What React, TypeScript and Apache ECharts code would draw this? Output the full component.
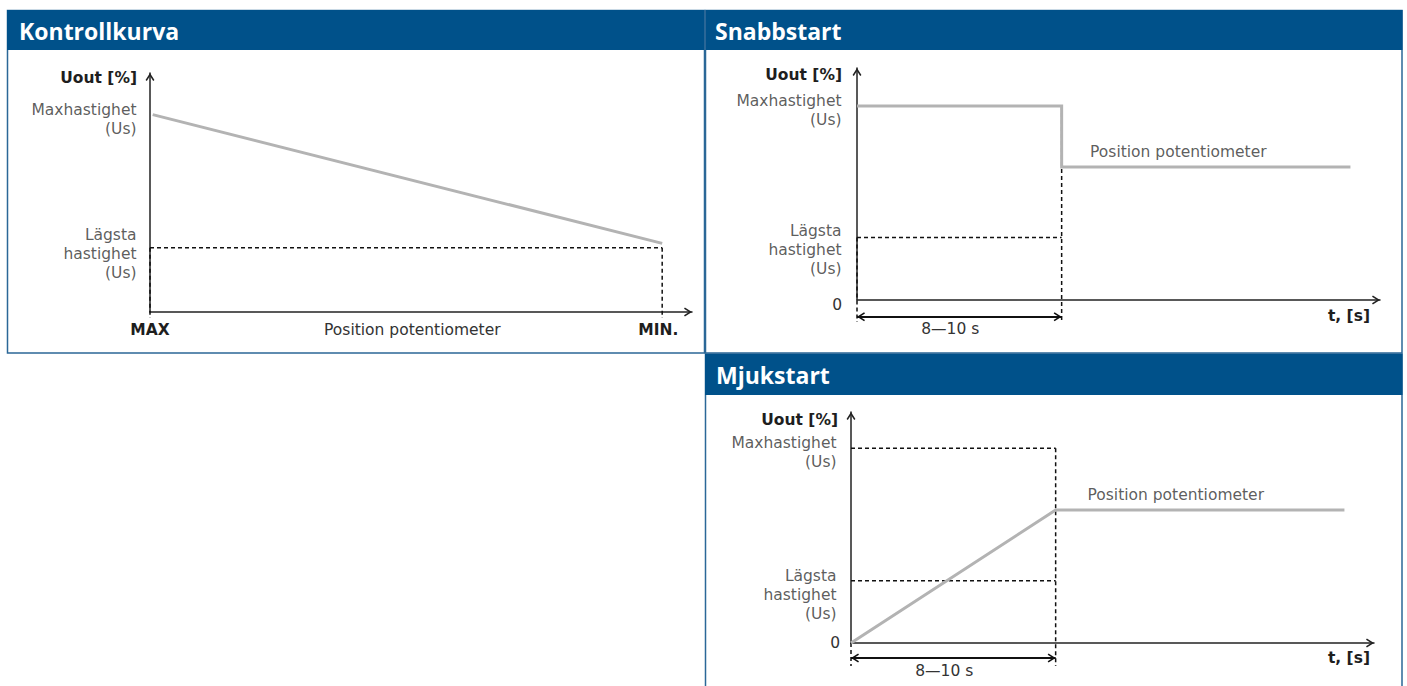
import React, { useEffect, useRef } from 'react';
import * as echarts from 'echarts';

// ---------- Kontrollkurva (Uout [%] vs. potentiometer position) ----------
const ctrlPosition = [0.5, 94.5];
const ctrlUout = [82.6, 28.7];
const ctrlMinSpeed = 26.9;
const ctrlDrop = -2.5;
const ctrlTickValues = [0, 48.4, 93.8];
const ctrlTickLabels = ['MAX', 'Position potentiometer', 'MIN.'];

// ---------- Snabbstart (Uout [%] vs. t [s]) ----------
const fastTime = [0, 9, 9, 21.7];
const fastUout = [83.6, 83.6, 57.3, 57.3];
const fastMinSpeed = 26.9;
const fastSpanY = -7.2;
const fastDrop = -9.5;
const fastNote = [10.25, 57.3];

// ---------- Mjukstart (Uout [%] vs. t [s]) ----------
const softTime = [0, 9, 21.7];
const softUout = [0, 57.6, 57.6];
const softMaxSpeed = 84.3;
const softMinSpeed = 27.0;
const softSpanY = -6.5;
const softDrop = -10;
const softNote = [10.4, 57.6];

const rampTime = 9;
const timeMax = 23;
const spanLabel = '8—10 s';
const spanLabelAt = [4.1];
const maxLabel = 'Maxhastighet\n(Us)';
const lowLabel = 'Lägsta\nhastighet\n(Us)';
const noteLabel = 'Position potentiometer';
const yName = 'Uout [%]';
const tName = 't, [s]';

const FONT = '"DejaVu Sans", Verdana, sans-serif';
const FS = 15.5;
const TEXT = '#333333';
const BOLD = '#1e1e1e';
const AXIS = '#222222';
const GREY = '#b3b3b3';
const BLUE = '#00518a';
const ARROW = 'path://M-4,-9M14,9M5,0L10,8L8.6,9L5,3.3L1.4,9L0,8Z';

const zip = (xs: number[], ys: number[]) => xs.map((x, i) => [x, ys[i]]);

function axisLine() {
  return {
    show: true,
    onZero: false,
    symbol: ['none', ARROW],
    symbolSize: [16, 16],
    lineStyle: { color: AXIS, width: 1.5 },
  };
}

function dashed(gi: number, pts: number[][]) {
  return {
    type: 'line',
    xAxisIndex: gi,
    yAxisIndex: gi,
    data: pts,
    symbol: 'none',
    lineStyle: { color: '#111', width: 1.5, type: [4, 3] },
    clip: false,
    silent: true,
    z: 3,
  };
}

function solid(gi: number, pts: number[][]) {
  return {
    type: 'line',
    xAxisIndex: gi,
    yAxisIndex: gi,
    data: pts,
    symbol: 'none',
    lineStyle: { color: GREY, width: 3, cap: 'butt', join: 'miter' },
    clip: false,
    silent: true,
    z: 4,
  };
}

function labels(gi: number, items: any[]) {
  return {
    type: 'scatter',
    xAxisIndex: gi,
    yAxisIndex: gi,
    symbolSize: 1,
    itemStyle: { color: 'rgba(0,0,0,0)' },
    silent: true,
    clip: false,
    z: 5,
    label: { show: true, fontFamily: FONT, fontSize: FS, color: TEXT, lineHeight: 19 },
    data: items.map((it) => ({
      value: it.value,
      label: {
        formatter: it.text,
        position: it.position,
        align: it.align,
        distance: it.distance,
        offset: [0, it.dy],
      },
    })),
  };
}

function span(gi: number, y: number) {
  return {
    type: 'lines',
    coordinateSystem: 'cartesian2d',
    xAxisIndex: gi,
    yAxisIndex: gi,
    clip: false,
    silent: true,
    symbol: [ARROW, ARROW],
    symbolSize: 16,
    lineStyle: { color: '#111', width: 1.8, opacity: 1, curveness: 0 },
    data: [{ coords: [[0, y], [rampTime, y]] }],
    z: 5,
  };
}

function yAxisFor(gi: number, nameGap: number, namePad: number, zero: null | { margin: number; lh: number }) {
  return {
    gridIndex: gi,
    type: 'value',
    min: 0,
    max: 100,
    axisLine: axisLine(),
    axisTick: { show: false },
    splitLine: { show: false },
    axisLabel: zero
      ? {
          show: true,
          customValues: [0],
          formatter: () => '0',
          margin: zero.margin,
          verticalAlign: 'top',
          lineHeight: zero.lh,
          fontFamily: FONT,
          fontSize: FS,
          color: TEXT,
        }
      : { show: false },
    name: yName,
    nameLocation: 'end',
    nameGap,
    nameMoveOverlap: false,
    nameTextStyle: {
      align: 'right',
      verticalAlign: 'middle',
      padding: [0, namePad, 0, 0],
      fontFamily: FONT,
      fontWeight: 'bold',
      fontSize: FS,
      color: BOLD,
    },
  };
}

function timeAxis(gi: number, nameGap: number, namePad: number, labelMargin: number) {
  return {
    gridIndex: gi,
    type: 'value',
    min: 0,
    max: timeMax,
    axisLine: axisLine(),
    axisTick: { show: false },
    splitLine: { show: false },
    axisLabel: {
      show: true,
      customValues: spanLabelAt,
      formatter: () => spanLabel,
      margin: labelMargin,
      fontFamily: FONT,
      fontSize: FS,
      lineHeight: 18,
      color: TEXT,
    },
    name: tName,
    nameLocation: 'end',
    nameGap,
    nameMoveOverlap: false,
    nameTextStyle: {
      align: 'right',
      verticalAlign: 'top',
      padding: [namePad, 0, 0, 0],
      fontFamily: FONT,
      fontWeight: 'bold',
      fontSize: FS,
      color: BOLD,
    },
  };
}

function buildOption() {
  const grids = [
    { left: 150, top: 73, width: 542, height: 239 },
    { left: 857, top: 68, width: 523, height: 232 },
    { left: 851, top: 412, width: 523, height: 231 },
  ].map((g) => ({ ...g, containLabel: false, outerBoundsMode: 'none', show: false }));

  const nearest = (v: number) => {
    let best = 0;
    ctrlTickValues.forEach((t, i) => {
      if (Math.abs(t - v) < Math.abs(ctrlTickValues[best] - v)) best = i;
    });
    return best;
  };

  const xAxis = [
    {
      gridIndex: 0,
      type: 'value',
      min: 0,
      max: 100,
      axisLine: axisLine(),
      axisTick: { show: false },
      splitLine: { show: false },
      axisLabel: {
        show: true,
        customValues: ctrlTickValues,
        margin: 9,
        formatter: (v: number) => {
          const i = nearest(v);
          return i === 1 ? `{n|${ctrlTickLabels[i]}}` : `{b|${ctrlTickLabels[i]}}`;
        },
        rich: {
          n: { fontFamily: FONT, fontSize: FS, color: TEXT, lineHeight: 18 },
          b: { fontFamily: FONT, fontSize: FS, fontWeight: 'bold', color: BOLD, lineHeight: 18 },
        },
      },
    },
    timeAxis(1, -10, 8, 20),
    timeAxis(2, -4, 7, 19),
  ];

  const yAxis = [
    yAxisFor(0, -5, 13, null),
    yAxisFor(1, -7, 15, { margin: 15, lh: 10 }),
    yAxisFor(2, -8, 13, { margin: 11, lh: 0.1 }),
  ];

  const series: any[] = [
    // Kontrollkurva
    dashed(0, [[0, ctrlMinSpeed], [ctrlPosition[1], ctrlMinSpeed]]),
    dashed(0, [[ctrlPosition[1], ctrlMinSpeed], [ctrlPosition[1], ctrlDrop]]),
    dashed(0, [[0, ctrlMinSpeed], [0, ctrlDrop]]),
    solid(0, zip(ctrlPosition, ctrlUout)),
    labels(0, [
      { value: [0, ctrlUout[0]], text: maxLabel, position: 'left', align: 'right', distance: 13, dy: 5 },
      { value: [0, ctrlMinSpeed], text: lowLabel, position: 'left', align: 'right', distance: 13, dy: 6.3 },
    ]),
    // Snabbstart
    dashed(1, [[0, fastMinSpeed], [rampTime, fastMinSpeed]]),
    dashed(1, [[rampTime, fastUout[0]], [rampTime, fastDrop]]),
    dashed(1, [[0, fastMinSpeed], [0, fastDrop]]),
    solid(1, zip(fastTime, fastUout)),
    span(1, fastSpanY),
    labels(1, [
      { value: [0, fastUout[0]], text: maxLabel, position: 'left', align: 'right', distance: 15, dy: 4.5 },
      { value: [0, fastMinSpeed], text: lowLabel, position: 'left', align: 'right', distance: 15, dy: 12.3 },
      { value: fastNote, text: noteLabel, position: 'top', align: 'left', distance: 5, dy: 0 },
    ]),
    // Mjukstart
    dashed(2, [[0, softMaxSpeed], [rampTime, softMaxSpeed]]),
    dashed(2, [[rampTime, softMaxSpeed], [rampTime, softDrop]]),
    dashed(2, [[0, softMinSpeed], [rampTime, softMinSpeed]]),
    dashed(2, [[0, 0], [0, softDrop]]),
    solid(2, zip(softTime, softUout)),
    span(2, softSpanY),
    labels(2, [
      { value: [0, softMaxSpeed], text: maxLabel, position: 'left', align: 'right', distance: 14, dy: 4 },
      { value: [0, softMinSpeed], text: lowLabel, position: 'left', align: 'right', distance: 14, dy: 14.3 },
      { value: softNote, text: noteLabel, position: 'top', align: 'left', distance: 5, dy: 0 },
    ]),
  ];

  const titleStyle = (text: string, x: number, y: number) => ({
    type: 'text',
    x,
    y,
    z: 20,
    style: {
      text,
      fill: '#ffffff',
      fontFamily: '"Open Sans", "Noto Sans", sans-serif',
      fontWeight: 'bold',
      fontSize: 23,
      verticalAlign: 'middle',
      align: 'left',
    },
  });

  const frame = { fill: 'none', stroke: '#2b6797', lineWidth: 1.5 };
  const graphic = [
    { type: 'rect', z: -10, silent: true, shape: { x: 7.5, y: 10.5, width: 697, height: 342.5 }, style: frame },
    { type: 'rect', z: -10, silent: true, shape: { x: 705.5, y: 10.5, width: 696.5, height: 342.5 }, style: frame },
    { type: 'rect', z: -10, silent: true, shape: { x: 705.5, y: 354, width: 696.5, height: 340 }, style: frame },
    { type: 'rect', z: 10, silent: true, shape: { x: 7, y: 10, width: 697, height: 40 }, style: { fill: BLUE } },
    { type: 'rect', z: 10, silent: true, shape: { x: 706, y: 10, width: 696.5, height: 40 }, style: { fill: BLUE } },
    { type: 'rect', z: 10, silent: true, shape: { x: 705, y: 354, width: 697.5, height: 41 }, style: { fill: BLUE } },
    titleStyle('Kontrollkurva', 19, 31),
    titleStyle('Snabbstart', 715, 31),
    titleStyle('Mjukstart', 716, 375),
  ];

  return {
    animation: false,
    backgroundColor: '#ffffff',
    textStyle: { fontFamily: FONT },
    grid: grids,
    xAxis,
    yAxis,
    series,
    graphic: { elements: graphic },
  };
}

export default function App() {
  const ref = useRef<HTMLDivElement>(null);
  useEffect(() => {
    if (!ref.current) return;
    const chart = echarts.init(ref.current, null, { renderer: 'svg' });
    chart.setOption(buildOption() as any);
    return () => chart.dispose();
  }, []);
  return (
    <div
      ref={ref}
      style={{ position: 'fixed', left: 0, top: 0, width: 1407, height: 686, background: '#fff' }}
    />
  );
}
